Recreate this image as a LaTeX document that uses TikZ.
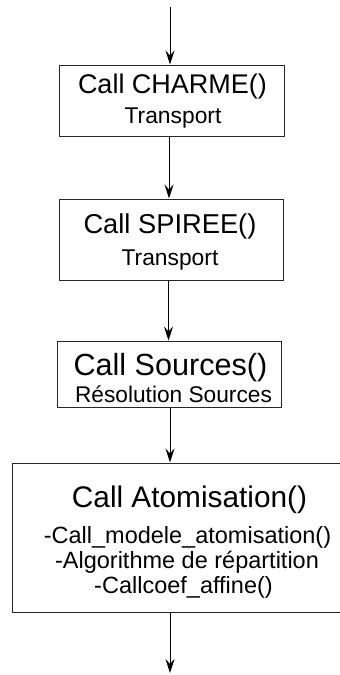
\documentclass[tikz,border=0pt]{standalone}
\usepackage{fontspec}
\setmainfont{Liberation Sans}
\usetikzlibrary{arrows.meta}
\tikzset{
  boxnode/.style={draw=black!85, line width=1pt, inner sep=0pt, fill=none},
  txt/.style={anchor=base, inner sep=0pt, text=black},
  conn/.style={draw=black, line width=1pt, -{Stealth[length=14pt,width=9pt,inset=5pt]}},
}
\begin{document}
\begin{tikzpicture}[x=1pt,y=-1pt]
\useasboundingbox (0,0) rectangle (340,675);
\begin{scope}
\clip (0,0) rectangle (340,675);
% boxes
\node[boxnode, minimum width=225pt, minimum height=71pt] (b1) at (171.5,100.5) {};
\node[boxnode, minimum width=224pt, minimum height=81pt] (b2) at (171,239.5) {};
\node[boxnode, minimum width=224pt, minimum height=66pt] (b3) at (169,374) {};
\node[boxnode, minimum width=340pt, minimum height=149pt] (b4) at (182,537.5) {};
% texts
\node[txt, font=\fontsize{27}{27}\selectfont] (t1a) at (172.5,93) {Call CHARME()};
\node[txt, font=\fontsize{22.8}{22.8}\selectfont] (t1b) at (173,123) {Transport};
\node[txt, font=\fontsize{27.3}{27.3}\selectfont] (t2a) at (170,233) {Call SPIREE()};
\node[txt, font=\fontsize{22.8}{22.8}\selectfont] (t2b) at (170,265) {Transport};
\node[txt, font=\fontsize{30.6}{30.6}\selectfont] (t3a) at (170.5,375) {Call Sources()};
\node[txt, font=\fontsize{22.7}{22.7}\selectfont] (t3b) at (173.5,402) {Résolution Sources};
\node[txt, font=\fontsize{29.8}{29.8}\selectfont] (t4a) at (189.5,507) {Call Atomisation()};
\node[txt, font=\fontsize{23.5}{23.5}\selectfont] (t4b) at (187.5,543) {-Call\_modele\_atomisation()};
\node[txt, font=\fontsize{23.5}{23.5}\selectfont] (t4c) at (187,568) {-Algorithme de répartition};
\node[txt, font=\fontsize{23.5}{23.5}\selectfont] (t4d) at (183.5,593) {-Callcoef\_affine()};
% connector x positions
\coordinate (start) at (170,7);
\coordinate (finish) at (170,673);
\coordinate (x12) at (169,0);
\coordinate (x23) at (168.5,0);
\coordinate (x34) at (170,0);
\draw[conn] (start) -- (start |- b1.north);
\draw[conn] (b1.south -| x12) -- (b2.north -| x12);
\draw[conn] (b2.south -| x23) -- (b3.north -| x23);
\draw[conn] (b3.south -| x34) -- (b4.north -| x34);
\draw[conn] (b4.south -| finish) -- (finish);
\end{scope}
\end{tikzpicture}
\end{document}
